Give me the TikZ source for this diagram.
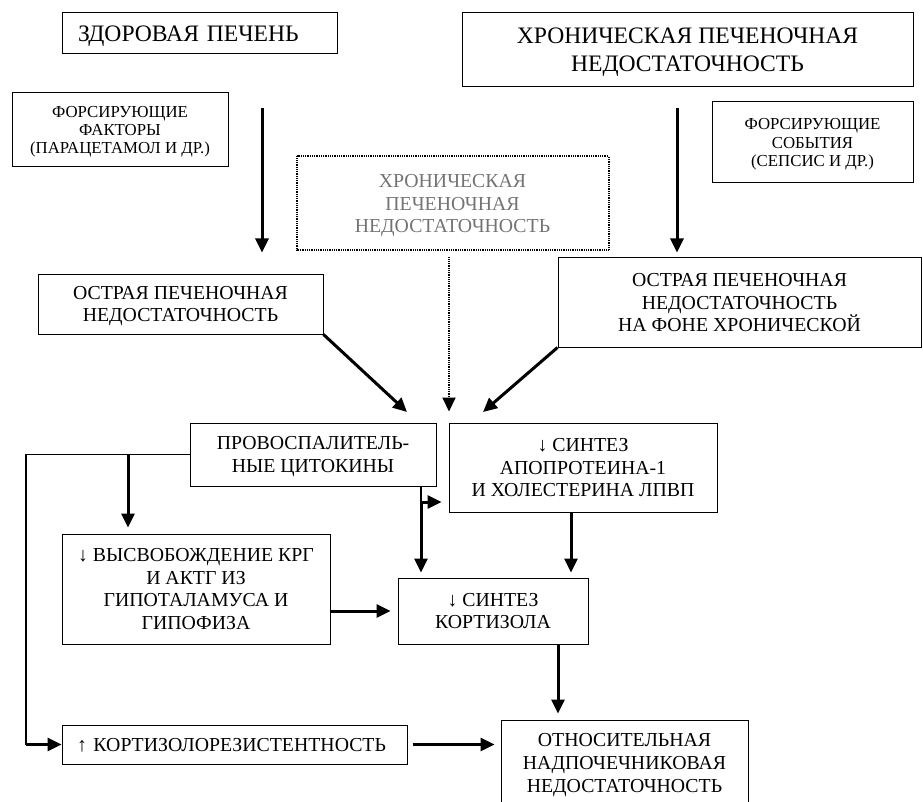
\documentclass[tikz,border=0pt]{standalone}
\usepackage{fontspec}
\setmainfont{Liberation Serif}
\usetikzlibrary{arrows.meta}

\begin{document}
\begin{tikzpicture}[
  x=1pt, y=-1pt,
  box/.style={draw, line width=1pt, align=center, inner sep=0pt, text depth=0pt},
  big/.style={font=\fontsize{23.6}{28}\selectfont},
  mid/.style={font=\fontsize{19.8}{22.8}\selectfont},
  small/.style={font=\fontsize{16.8}{18.4}\selectfont},
  arr/.style={line width=3pt, -{Triangle[width=13pt,length=14pt]}},
  rail/.style={line width=1.6pt},
  dotline/.style={line width=2pt, dash pattern=on 1pt off 0.8pt},
]

% Page frame (the lowest box runs off the bottom edge)
\useasboundingbox (0,0) rectangle (923,802);
\clip (0,0) rectangle (923,802);

% ── Top row: starting states ────────────────────────────────────────────
\node[box, big, align=left, inner xsep=16pt, text width=243pt, minimum height=41pt]
  (healthy) at (199.5,33.5) {ЗДОРОВАЯ ПЕЧЕНЬ};
\node[box, big, minimum width=451pt, minimum height=74pt] (chronic)
  at (687.5,50) {ХРОНИЧЕСКАЯ ПЕЧЕНОЧНАЯ\\НЕДОСТАТОЧНОСТЬ};

% ── Triggers ────────────────────────────────────────────────────────────
\node[box, small, minimum width=216pt, minimum height=74pt] (factors)
  at (120,130) {ФОРСИРУЮЩИЕ\\ФАКТОРЫ\\(ПАРАЦЕТАМОЛ И ДР.)};
\node[box, small, minimum width=201pt, minimum height=81pt] (events)
  at (812.5,142.5) {ФОРСИРУЮЩИЕ\\СОБЫТИЯ\\(СЕПСИС И ДР.)};

% Dotted box, grey text
\node[box, mid, draw=none, text=black!55, minimum width=311pt, minimum height=93pt]
  (chronicdot) at (452.5,203.5) {ХРОНИЧЕСКАЯ\\ПЕЧЕНОЧНАЯ\\НЕДОСТАТОЧНОСТЬ};
\draw[dotline] (chronicdot.north west) rectangle (chronicdot.south east);

% ── Acute failure ───────────────────────────────────────────────────────
\node[box, mid, minimum width=285pt, minimum height=60pt] (acute)
  at (180.5,304) {ОСТРАЯ ПЕЧЕНОЧНАЯ\\НЕДОСТАТОЧНОСТЬ};
\node[box, mid, minimum width=363pt, minimum height=89pt] (acuteonchronic)
  at (739.5,302.5) {ОСТРАЯ ПЕЧЕНОЧНАЯ\\НЕДОСТАТОЧНОСТЬ\\НА ФОНЕ ХРОНИЧЕСКОЙ};

% ── Mechanisms ──────────────────────────────────────────────────────────
\node[box, mid, minimum width=246pt, minimum height=63pt] (cytokines)
  at (313,454.5) {ПРОВОСПАЛИТЕЛЬ-\\НЫЕ ЦИТОКИНЫ};
\node[box, mid, minimum width=268pt, minimum height=89pt] (apoA)
  at (583,467.5) {↓ СИНТЕЗ\\АПОПРОТЕИНА-1\\И ХОЛЕСТЕРИНА ЛПВП};
\node[box, mid, minimum width=268pt, minimum height=110pt] (release)
  at (196,589) {↓ ВЫСВОБОЖДЕНИЕ КРГ\\И АКТГ ИЗ\\ГИПОТАЛАМУСА И\\ГИПОФИЗА};
\node[box, mid, minimum width=190pt, minimum height=66pt] (cortisol)
  at (493,611) {↓ СИНТЕЗ\\КОРТИЗОЛА};
\node[box, mid, align=left, inner xsep=15pt, text width=315pt, minimum height=39pt]
  (resist) at (234.5,744.5) {↑ КОРТИЗОЛОРЕЗИСТЕНТНОСТЬ};
\node[box, mid, minimum width=247pt, minimum height=86pt] (adrenal)
  at (624.5,763) {ОТНОСИТЕЛЬНАЯ\\НАДПОЧЕЧНИКОВАЯ\\НЕДОСТАТОЧНОСТЬ};

% ── Free ends and branch points ─────────────────────────────────────────
\coordinate (healthyOut) at (262,108);
\coordinate (chronicOut) at (677,108);
\coordinate (cytoIn)     at (407,412);
\coordinate (apoIn)      at (483,412);
\coordinate (railTop)    at (26,454.5);
\coordinate (releaseTap) at (128,454.5);
\coordinate (cytoTap)    at (421,502);

% ── Connectors ──────────────────────────────────────────────────────────
\draw[arr, shorten >=21pt] (healthyOut) -- (healthyOut |- acute.north);
\draw[arr, shorten >=5pt]  (chronicOut) -- (chronicOut |- acuteonchronic.north);

\draw[arr] (acute.south east) -- (cytoIn);
\draw[arr] (acuteonchronic.south west) -- (apoIn);
\draw[dotline, -{Triangle[width=13pt,length=14pt]}, shorten <=7pt, shorten >=11pt]
  ([xshift=-3.5pt]chronicdot.south) -- ([xshift=-3.5pt]chronicdot.south |- apoA.north);

% Left rail from the cytokines down to cortisol resistance
\draw[rail] (cytokines.west) -- (railTop) -- (railTop |- resist.west);
\draw[arr] (railTop |- resist.west) -- (resist.west);
\draw[arr, shorten >=6pt] (releaseTap) -- (releaseTap |- release.north);

% Cytokines below: to cortisol and to apoprotein
\draw[rail] (cytoTap |- cytokines.south) -- (cytoTap);
\draw[arr, shorten >=5pt] (cytoTap) -- (cytoTap |- cortisol.north);
\draw[arr, shorten >=7pt] (cytoTap) -- (cytoTap -| apoA.west);

\draw[arr, shorten >=5pt]
  ([xshift=-12pt]apoA.south) -- ([xshift=-12pt]apoA.south |- cortisol.north);
\draw[arr, shorten >=7pt] (release.east |- cortisol.west) -- (cortisol.west);
\draw[arr, shorten >=6pt]
  ([xshift=65pt]cortisol.south) -- ([xshift=65pt]cortisol.south |- adrenal.north);
\draw[arr, shorten <=5pt, shorten >=6pt] (resist.east) -- (resist.east -| adrenal.west);

\end{tikzpicture}
\end{document}
